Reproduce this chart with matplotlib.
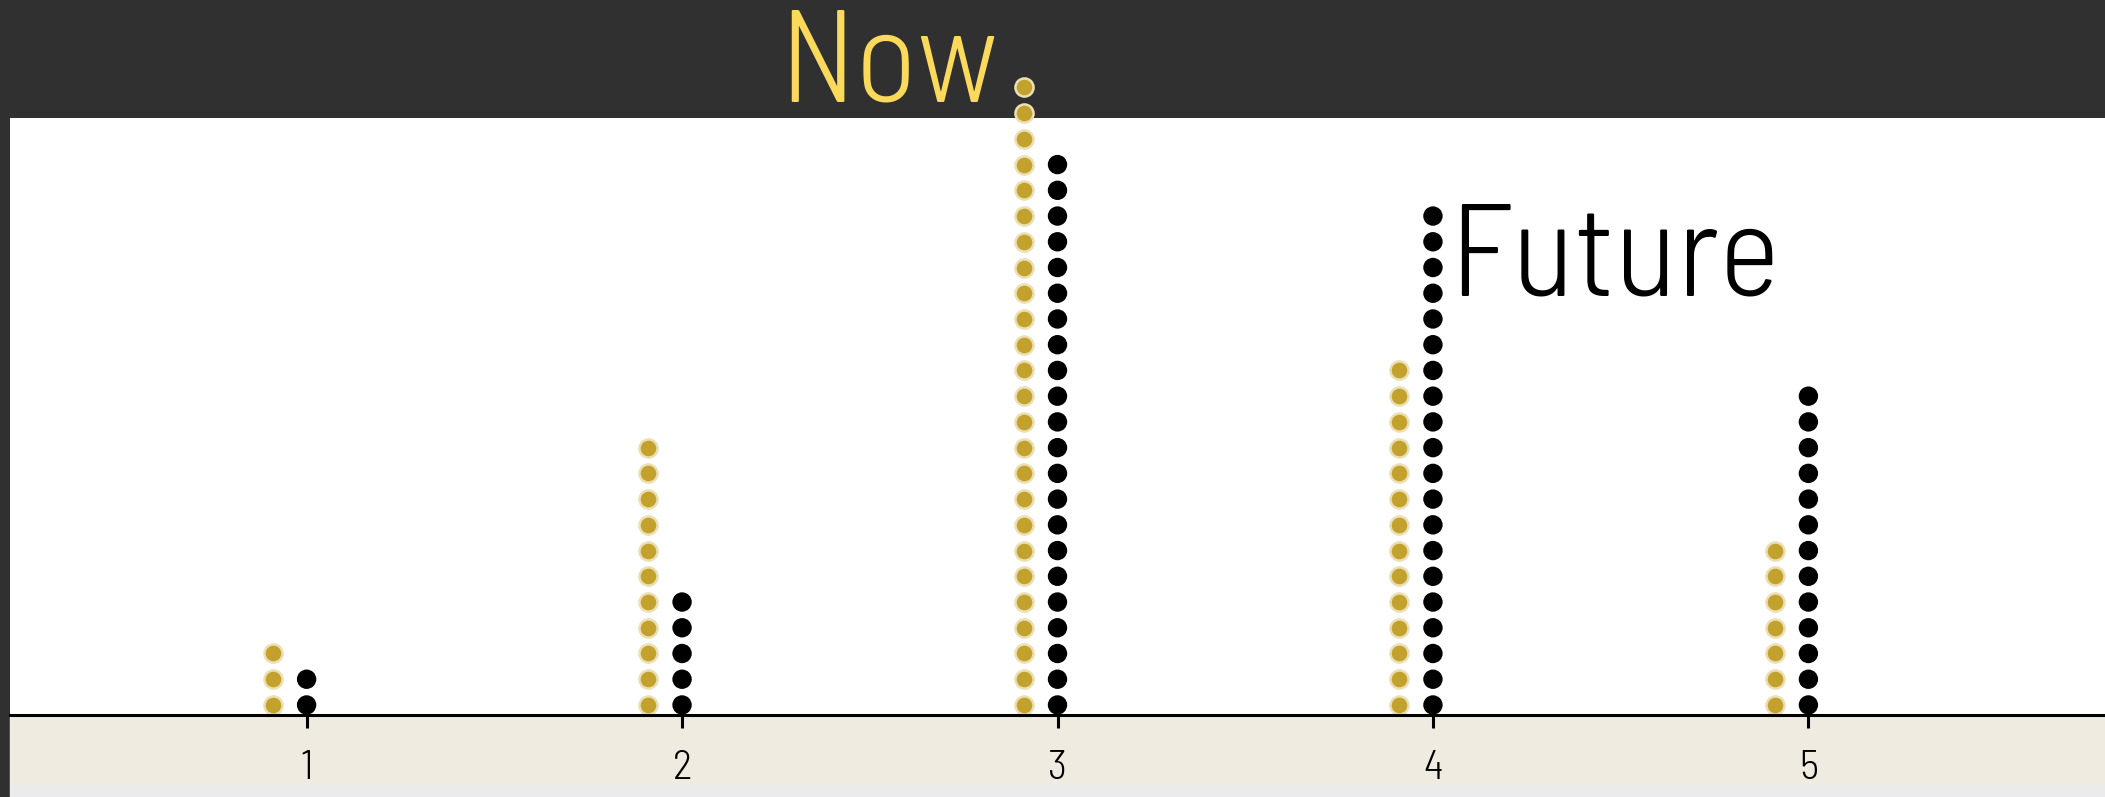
import matplotlib
matplotlib.use("Agg")
import os
import matplotlib.pyplot as plt
from matplotlib.patches import Rectangle
from matplotlib import font_manager

categories = [1, 2, 3, 4, 5]
now_counts = [3, 11, 25, 14, 7]
future_counts = [2, 5, 22, 20, 13]

W, H = 2105, 797
fig = plt.figure(figsize=(W / 100, H / 100), dpi=100, facecolor="#303030")


def pick_font():
    # thin, slightly narrow face for the big series labels
    files = {os.path.basename(f.fname).lower(): f.fname for f in font_manager.fontManager.ttflist}
    for want in ["notosans-semicondensedlight", "barlowsemicondensed-light",
                 "firasanscondensed-light", "ibmplexsanscondensed-light",
                 "encodesanssemicondensed-light", "sairasemicondensed-light",
                 "asapcondensed-light", "robotocondensed-light"]:
        for name, path in files.items():
            if name.startswith(want) and "italic" not in name:
                return font_manager.FontProperties(fname=path)
    for name, path in sorted(files.items()):
        if "semicondensed" in name and name.endswith("light.ttf"):
            return font_manager.FontProperties(fname=path)
    best, best_score = None, None
    for f in font_manager.fontManager.ttflist:
        w = f.weight if isinstance(f.weight, int) else 400
        narrow = ("condensed" in str(f.stretch)) or ("Narrow" in f.name) or ("Condensed" in f.name)
        score = (0 if narrow else 1, abs(w - 250))
        if best_score is None or score < best_score:
            best, best_score = f, score
    return font_manager.FontProperties(fname=best.fname)


big_font = pick_font()

# bottom beige band and grey strip
fig.patches.append(Rectangle((10 / W, 12 / H), 1, 70 / H,
                             transform=fig.transFigure, color="#efebe0", zorder=-5))
fig.patches.append(Rectangle((10 / W, 0), 1, 12 / H,
                             transform=fig.transFigure, color="#ebebeb", zorder=10))

ax = fig.add_axes([10 / W, (H - 715) / H, (W - 10) / W, (715 - 118) / H])
ax.set_facecolor("white")

for x, n_now, n_fut in zip(categories, now_counts, future_counts):
    ys_now = [i + 0.39 for i in range(n_now)]
    ys_fut = [i + 0.39 for i in range(n_fut)]
    ax.scatter([x - 0.09] * n_now, ys_now, s=170, color="#c3a12d",
               edgecolors="#ecdfb4", linewidths=1.8, clip_on=False, zorder=3)
    ax.scatter([x] * n_fut, ys_fut, s=195, color="black",
               edgecolors="none", clip_on=False, zorder=3)

# series labels next to top dots
ax.annotate("Now", xy=(3 - 0.09, now_counts[2] - 0.61), xytext=(-18, -10),
            textcoords="offset points", ha="right", va="baseline",
            fontproperties=big_font, fontsize=94, color="#fad95b", annotation_clip=False)
ax.annotate("Future", xy=(4, future_counts[3] - 0.61), xytext=(12, -57),
            textcoords="offset points", ha="left", va="baseline",
            fontproperties=big_font, fontsize=94, color="black", annotation_clip=False)

ax.set_xlim(0.21, 5.79)
ax.set_ylim(0, 23.2)
ax.set_xticks(categories)
ax.set_xticklabels([str(c) for c in categories], fontproperties=big_font, fontsize=30)
ax.set_yticks([])
for side in ["left", "right", "top"]:
    ax.spines[side].set_visible(False)
ax.spines["bottom"].set_linewidth(2.2)
ax.spines["bottom"].set_zorder(4)
ax.tick_params(axis="x", length=9.5, width=2.2, pad=16, colors="black")

fig.savefig("out.png", dpi=100, facecolor=fig.get_facecolor())
